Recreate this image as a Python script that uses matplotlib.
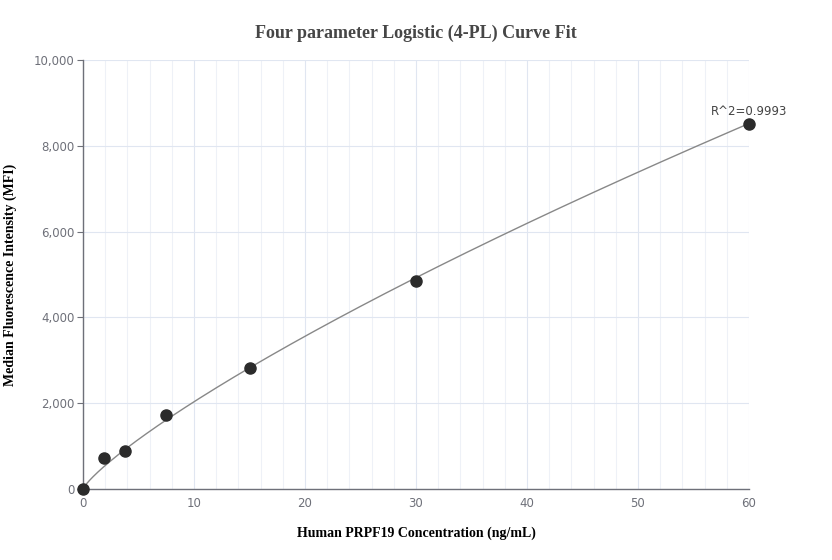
import numpy as np
import matplotlib
matplotlib.use('Agg')
import matplotlib.pyplot as plt
from matplotlib.ticker import MultipleLocator, FuncFormatter

# standards
conc = [0, 1.875, 3.75, 7.5, 15, 30, 60]
mfi = [0, 723, 886, 1725, 2820, 4850, 8508]

# 4-PL parameters (a, b, c, d) picked to follow the drawn curve
pl_a, pl_b, pl_c, pl_d = 0.0, 0.82, 2366.0, 181900.0
r2_text = 'R^2=0.9993'

def four_pl(x):
    x = np.asarray(x, dtype=float)
    return pl_d + (pl_a - pl_d) / (1 + (x / pl_c) ** pl_b)

fig = plt.figure(figsize=(8.32, 5.6), dpi=100)
ax = fig.add_axes([0.0998, 0.1268, 0.8004, 0.7661])

xs = np.linspace(0, 60, 400)
ax.plot(xs, four_pl(xs), color='#888888', lw=1, zorder=3)
ax.scatter(conc, mfi, s=64, color='#2b2b2b', zorder=4, clip_on=False)
ax.text(conc[-1], mfi[-1] + 150, r2_text, ha='center', va='bottom',
        fontsize=8.5, color='#444444', family='DejaVu Sans')

ax.set_xlim(0, 60)
ax.set_ylim(0, 10000)
ax.xaxis.set_major_locator(MultipleLocator(10))
ax.xaxis.set_minor_locator(MultipleLocator(2))
ax.yaxis.set_major_locator(MultipleLocator(2000))
ax.yaxis.set_major_formatter(FuncFormatter(lambda v, p: f'{int(v):,}'))

ax.grid(True, which='major', color='#e0e6f1', lw=0.8)
ax.grid(True, which='minor', axis='x', color='#eef1f7', lw=0.8)
ax.set_axisbelow(True)

for s in ['top', 'right']:
    ax.spines[s].set_visible(False)
for s in ['left', 'bottom']:
    ax.spines[s].set_color('#6e7079')
    ax.spines[s].set_linewidth(1)

ax.tick_params(axis='y', which='major', length=4, color='#6e7079',
               labelcolor='#6e7079', labelsize=8.5, pad=2)
ax.tick_params(axis='x', which='both', length=0, labelcolor='#6e7079',
               labelsize=8.5, pad=6)

ax.set_xlabel('Human PRPF19 Concentration (ng/mL)', family='Liberation Serif',
              fontweight='bold', fontsize=10, labelpad=12)
ax.set_ylabel('Median Fluorescence Intensity (MFI)', family='Liberation Serif',
              fontweight='bold', fontsize=10, labelpad=12)
fig.text(0.5, 0.94, 'Four parameter Logistic (4-PL) Curve Fit',
         ha='center', va='center', family='Liberation Serif',
         fontweight='bold', fontsize=13, color='#464646')

fig.savefig('out.png', dpi=100)
